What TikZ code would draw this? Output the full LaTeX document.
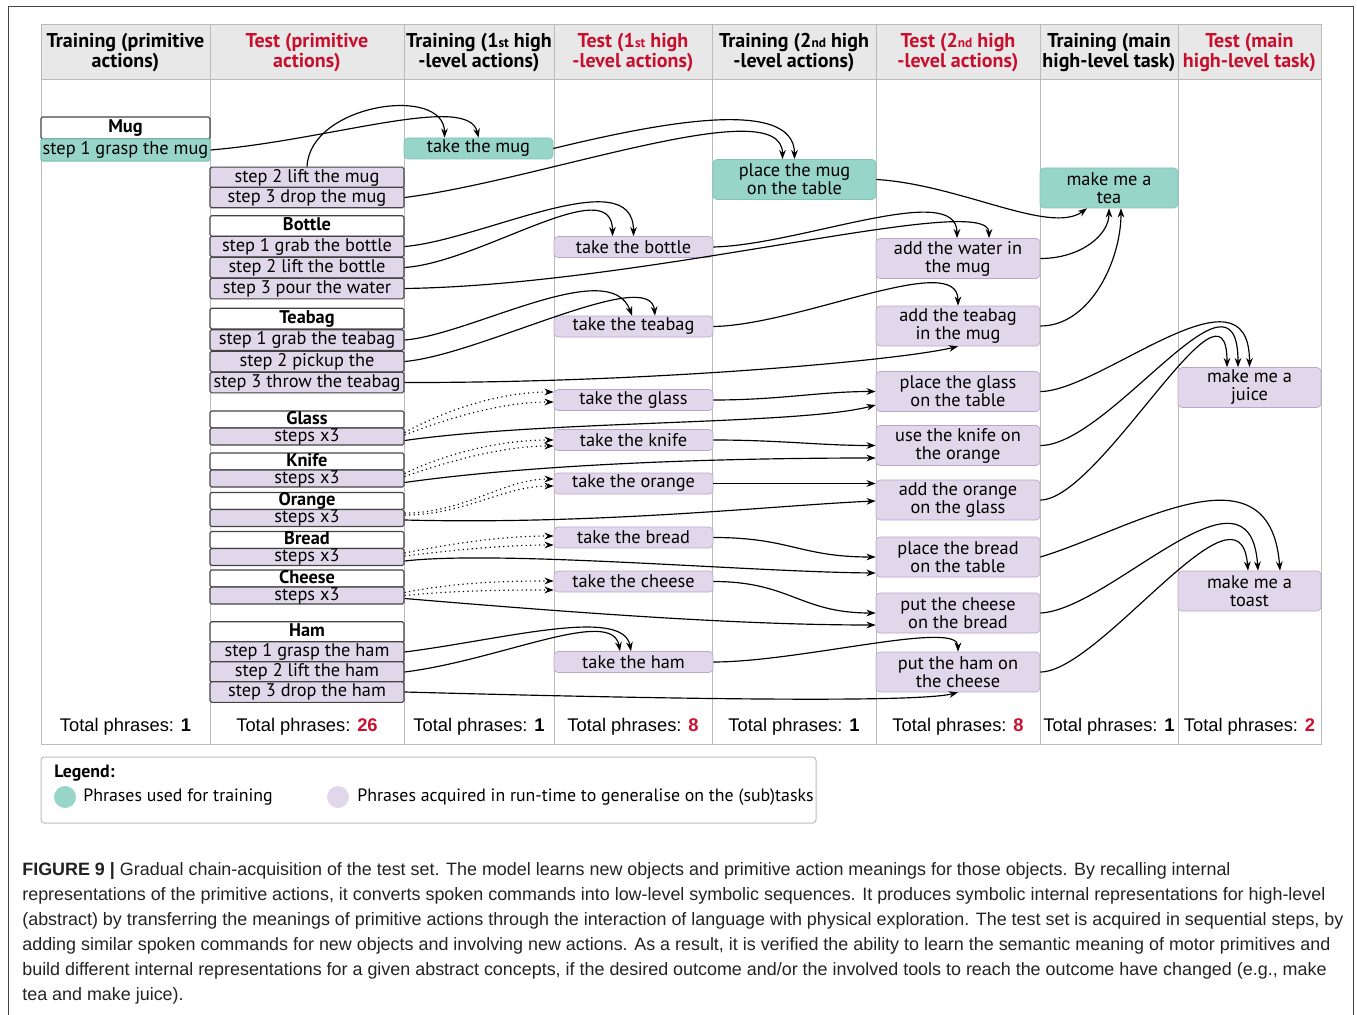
\documentclass[tikz,border=0pt]{standalone}
\usepackage{fontspec}
\setmainfont{PT Sans}
\newfontfamily\capfont{Liberation Sans}
\usetikzlibrary{arrows.meta,calc,positioning}

\definecolor{teachT}{HTML}{97D5C9}
\definecolor{teachL}{HTML}{7FC4B6}
\definecolor{lilac}{HTML}{E1D7EA}
\definecolor{lilacL}{HTML}{B9A6CB}
\definecolor{boxline}{HTML}{444444}
\definecolor{gridline}{HTML}{BBBBBB}
\definecolor{hdrgray}{HTML}{E8E8E8}
\definecolor{testred}{HTML}{C8102E}
\definecolor{capgray}{HTML}{222222}

\newcommand\boxfont{\fontsize{11}{10.8}\selectfont}

\begin{document}
\begin{tikzpicture}[x=0.6pt,y=-0.6pt,
  obj/.style={draw=boxline, fill=white, line width=0.7pt, rounded corners=1pt,
    inner sep=0pt, font=\boxfont\bfseries, text height=7.6pt, text depth=2.2pt,
    minimum width=116.4pt, minimum height=12.4pt},
  prim/.style={obj, fill=lilac, font=\boxfont},
  small/.style={minimum height=10.2pt},
  act/.style={draw=lilacL, fill=lilac, rounded corners=2.4pt, inner sep=0pt,
    align=center, font=\boxfont, minimum width=95.4pt, minimum height=12.6pt},
  act2/.style={act, minimum width=98.4pt, minimum height=24pt},
  trained/.style={fill=teachT, draw=teachL},
  hdr/.style={align=center, font=\fontsize{12}{12.5}\selectfont\bfseries},
  tot/.style={font=\capfont\fontsize{11}{12}\selectfont},
  arr/.style={-{Stealth[length=5.5pt,width=4pt]}, line width=0.7pt},
  dotarr/.style={arr, dotted}
]
\useasboundingbox (0,0) rectangle (1357,1015);

% outer frame
\draw[boxline, line width=0.6pt] (8,1015) -- (8,7) -- (1353,7) -- (1353,1015);

% table
\fill[hdrgray] (41,25) rectangle (1321,80);
\draw[gridline, line width=0.6pt] (41,25) rectangle (1321,744);
\draw[gridline, line width=0.6pt] (41,80) -- (1321,80);
\foreach \x in {210,404,554,712,876,1040,1178}
  \draw[gridline, line width=0.6pt] (\x,25) -- (\x,744);

% headers
\node[hdr] (h1) at (125.5,52.5) {Training (primitive\\actions)};
\node[hdr, testred] (h2) at (307,52.5) {Test (primitive\\actions)};
\node[hdr] (h3) at (479,52.5) {Training (1{\footnotesize st} high\\-level actions)};
\node[hdr, testred] (h4) at (633,52.5) {Test (1{\footnotesize st} high\\-level actions)};
\node[hdr] (h5) at (794,52.5) {Training (2{\footnotesize nd} high\\-level actions)};
\node[hdr, testred] (h6) at (958,52.5) {Test (2{\footnotesize nd} high\\-level actions)};
\node[hdr] (h7) at (1109,52.5) {Training (main\\high-level task)};
\node[hdr, testred] (h8) at (1249.5,52.5) {Test (main\\high-level task)};

% primitive actions (training)
\node[obj, minimum width=101.4pt, minimum height=13.2pt] (mugobj) at (125.5,128) {Mug};
\node[prim, trained, minimum width=101.4pt, minimum height=13.2pt] (grmug) at (125.5,150) {step 1 grasp the mug};

% primitive actions (test)
\node[prim] (lfmug) at (307,177.5) {step 2 lift the mug};
\node[prim] (drmug) at (307,197.5) {step 3 drop the mug};
\node[obj] (botobj) at (307,226) {Bottle};
\node[prim] (grbot) at (307,246.5) {step 1 grab the bottle};
\node[prim] (lfbot) at (307,267.5) {step 2 lift the bottle};
\node[prim] (pour) at (307,288.5) {step 3 pour the water};
\node[obj] (tbobj) at (307,318.5) {Teabag};
\node[prim] (grtb) at (307,340) {step 1 grab the teabag};
\node[prim] (pick) at (307,361.5) {step 2 pickup the};
\node[prim] (throw) at (307,382.5) {step 3 throw the teabag};
\node[obj, small] (globj) at (307,419.5) {Glass};
\node[prim, small] (glst) at (307,436.5) {steps x3};
\node[obj, small] (knobj) at (307,461.5) {Knife};
\node[prim, small] (knst) at (307,478.5) {steps x3};
\node[obj, small] (orobj) at (307,501) {Orange};
\node[prim, small] (orst) at (307,518) {steps x3};
\node[obj, small] (brobj) at (307,540) {Bread};
\node[prim, small] (brst) at (307,557) {steps x3};
\node[obj, small] (chobj) at (307,578.5) {Cheese};
\node[prim, small] (chst) at (307,595.5) {steps x3};
\node[obj] (hamobj) at (307,632) {Ham};
\node[prim] (grham) at (307,652) {step 1 grasp the ham};
\node[prim] (lfham) at (307,672) {step 2 lift the ham};
\node[prim] (drham) at (307,692) {step 3 drop the ham};

% 1st high-level actions
\node[act, trained, minimum width=89.4pt] (tkmug) at (478.5,148.5) {take the mug};
\node[act] (tkbot) at (633.5,247) {take the bottle};
\node[act] (tktb) at (633.5,326.5) {take the teabag};
\node[act] (tkgl) at (633.5,400) {take the glass};
\node[act] (tkkn) at (633.5,440) {take the knife};
\node[act] (tkor) at (633.5,483.5) {take the orange};
\node[act] (tkbr) at (633.5,537.5) {take the bread};
\node[act] (tkch) at (633.5,581.5) {take the cheese};
\node[act] (tkham) at (633.5,662) {take the ham};

% 2nd high-level actions
\node[act2, trained, minimum width=97.8pt] (pmug) at (794.5,179.5) {place the mug\\on the table};
\node[act2] (water) at (958,258.5) {add the water in\\the mug};
\node[act2] (addtb) at (958,326) {add the teabag\\in the mug};
\node[act2] (pglass) at (958,391.5) {place the glass\\on the table};
\node[act2] (useknf) at (958,445.5) {use the knife on\\the orange};
\node[act2] (addor) at (958,500) {add the orange\\on the glass};
\node[act2] (pbread) at (958,557) {place the bread\\on the table};
\node[act2] (pchee) at (958,613) {put the cheese\\on the bread};
\node[act2] (pham) at (958,672) {put the ham on\\the cheese};

% main tasks
\node[act2, trained, minimum width=82.8pt] (tea) at (1109,188) {make me a\\tea};
\node[act2, minimum width=85.8pt] (juice) at (1249.5,387.5) {make me a\\juice};
\node[act2, minimum width=85.8pt] (toast) at (1249.5,591) {make me a\\toast};

% mug, bottle, teabag chains
\draw[arr] (grmug.east) .. controls +(120,-10) and +(-10,-45) .. (tkmug.north);
\draw[arr] (lfmug.north) .. controls +(3,-63) and +(0,-53) .. ($(tkmug.north)+(-34,0)$);
\draw[arr] (tkmug.east) .. controls +(97,-23.5) and +(0,-64) .. (pmug.north);
\draw[arr] (drmug.east) .. controls +(136,-17) and +(0,-69) .. ($(pmug.north)+(-12,0)$);
\draw[arr] (pmug.east) .. controls +(84,5) and +(-37,27) .. ($(tea.south)+(-22,0)$);
\draw[arr] (water.east) .. controls +(40,0) and +(0,27) .. (tea.south);
\draw[arr] (addtb.east) .. controls +(50,0) and +(0,52) .. ($(tea.south)+(12,0)$);
\draw[arr] (grbot.east) .. controls +(76,-6) and +(0,-76) .. (tkbot.north);
\draw[arr] (lfbot.east) .. controls +(76,-5) and +(0,-66) .. ($(tkbot.north)+(-21,0)$);
\draw[arr] (tkbot.east) .. controls +(87,-2) and +(0,-58) .. ($(water.north)+(-1,0)$);
\draw[arr] (pour.east) .. controls +(246,-3.5) and +(0,-48) .. ($(water.north)+(31,0)$);
\draw[arr] (grtb.east) .. controls +(66,-5) and +(-22,-61) .. ($(tktb.north)+(-1.5,0)$);
\draw[arr] (pick.east) .. controls +(76,-6.5) and +(-5,-51) .. ($(tktb.north)+(21.5,0)$);
\draw[arr] (tktb.east) .. controls +(87,-1.5) and +(0,-56) .. (addtb.north);
\draw[arr] (throw.east) .. controls +(246,0.5) and +(-58,14) .. (addtb.south);

% glass, knife, orange
\draw[dotarr] ($(glst.east)+(0,-4)$) .. controls +(46,-25) and +(-50,0) .. ($(tkgl.west)+(0,-8)$);
\draw[dotarr] ($(glst.east)+(0,-1.5)$) .. controls +(46,-18) and +(-50,0) .. ($(tkgl.west)+(0,2)$);
\draw[arr] ($(glst.east)+(0,4)$) .. controls +(146,-20.5) and +(-76,20) .. ($(pglass.west)+(0,13.5)$);
\draw[arr] (tkgl.east) .. controls +(67,0) and +(-56,0) .. (pglass.west);
\draw[dotarr] ($(knst.east)+(0,-5)$) .. controls +(46,-22) and +(-50,0) .. (tkkn.west);
\draw[dotarr] ($(knst.east)+(0,-2)$) .. controls +(46,-16) and +(-50,0) .. ($(tkkn.west)+(0,6)$);
\draw[arr] ($(knst.east)+(0,4)$) .. controls +(146,-20.5) and +(-126,0) .. ($(useknf.west)+(0,12.5)$);
\draw[arr] (tkkn.east) .. controls +(67,0) and +(-56,0) .. (useknf.west);
\draw[dotarr] ($(orst.east)+(0,-5)$) .. controls +(60,0) and +(-50,0) .. ($(tkor.west)+(0,-4.5)$);
\draw[dotarr] ($(orst.east)+(0,-3)$) .. controls +(60,0) and +(-50,0) .. ($(tkor.west)+(0,2.5)$);
\draw[arr] ($(orst.east)+(0,2)$) .. controls +(196,5) and +(-96,4) .. ($(addor.west)+(0,1)$);
\draw[arr] (tkor.east) -- ($(addor.west)+(0,-16.5)$);

% bread, cheese, ham
\draw[dotarr] ($(brst.east)+(0,-4)$) .. controls +(50,-10) and +(-50,0) .. ($(tkbr.west)+(0,-1.5)$);
\draw[dotarr] ($(brst.east)+(0,-1)$) .. controls +(50,-6) and +(-50,0) .. ($(tkbr.west)+(0,7.5)$);
\draw[arr] ($(brst.east)+(0,4)$) .. controls +(96,-11) and +(-126,-1) .. ($(pbread.west)+(0,16)$);
\draw[arr] (tkbr.east) .. controls +(77,0) and +(-76,0) .. (pbread.west);
\draw[dotarr] ($(chst.east)+(0,-3)$) .. controls +(50,-10) and +(-50,0) .. ($(tkch.west)+(0,-0.5)$);
\draw[dotarr] (chst.east) .. controls +(50,-5) and +(-50,0) .. ($(tkch.west)+(0,8.5)$);
\draw[arr] ($(chst.east)+(0,3)$) .. controls +(196,16.5) and +(-126,0) .. ($(pchee.west)+(0,12)$);
\draw[arr] (tkch.east) .. controls +(77,0) and +(-76,0) .. (pchee.west);
\draw[arr] (grham.east) .. controls +(96,-12) and +(-8,-45) .. ($(tkham.north)+(-2.5,0)$);
\draw[arr] (lfham.east) .. controls +(96,-12) and +(-8,-45) .. ($(tkham.north)+(-13.5,0)$);
\draw[arr] (tkham.east) .. controls +(87,0) and +(0,-32) .. (pham.north);
\draw[arr] (drham.east) .. controls +(296,8) and +(-38,10) .. (pham.south);

% juice and toast
\draw[arr] (pglass.east) .. controls +(60,0) and +(0,-110) .. (juice.north);
\draw[arr] (useknf.east) .. controls +(70,0) and +(0,-118) .. ($(juice.north)+(-11.5,0)$);
\draw[arr] (addor.east) .. controls +(60,0) and +(0,-108) .. ($(juice.north)+(-22.5,0)$);
\draw[arr] (pbread.east) .. controls +(90,-27) and +(-10,-131) .. ($(toast.north)+(30.5,0)$);
\draw[arr] (pchee.east) .. controls +(70,-3) and +(-8,-121) .. ($(toast.north)+(8.5,0)$);
\draw[arr] (pham.east) .. controls +(60,0) and +(-8,-101) .. ($(toast.north)+(-1.5,0)$);

% totals
\node[tot] (t1) at (125.5,727) {Total phrases: \textbf{1}};
\node[tot] (t2) at (307,727) {Total phrases: \textbf{\color{testred}26}};
\node[tot] (t3) at (479,727) {Total phrases: \textbf{1}};
\node[tot] (t4) at (633,727) {Total phrases: \textbf{\color{testred}8}};
\node[tot] (t5) at (794,727) {Total phrases: \textbf{1}};
\node[tot] (t6) at (958,727) {Total phrases: \textbf{\color{testred}8}};
\node[tot] (t7) at (1109,727) {Total phrases: \textbf{1}};
\node[tot] (t8) at (1249.5,727) {Total phrases: \textbf{\color{testred}2}};

% legend
\draw[gridline, line width=0.6pt, rounded corners=2pt] (41,757) rectangle (816,823);
\node[font=\fontsize{10.7}{12}\selectfont\bfseries, anchor=west, inner sep=0pt] (leg) at (54,773) {Legend:};
\fill[teachT] (65,797) circle (6.6pt);
\fill[lilac] (338,797) circle (6.6pt);
\node[font=\fontsize{10.7}{12}\selectfont, anchor=west, inner sep=0pt] (legT) at (83,797) {Phrases used for training};
\node[font=\fontsize{10.7}{12}\selectfont, anchor=west, inner sep=0pt] (legL) at (357,797) {Phrases acquired in run-time to generalise on the (sub)tasks};

% caption
\node[anchor=north west, inner sep=0pt, align=left, text=capgray,
  font=\capfont\fontsize{10.75}{15}\selectfont] (cap) at (22,862)
  {\textbf{FIGURE 9 |} Gradual chain-acquisition of the test set. The model learns new objects and primitive action meanings for those objects. By recalling internal\\
   representations of the primitive actions, it converts spoken commands into low-level symbolic sequences. It produces symbolic internal representations for high-level\\
   (abstract) by transferring the meanings of primitive actions through the interaction of language with physical exploration. The test set is acquired in sequential steps, by\\
   adding similar spoken commands for new objects and involving new actions. As a result, it is verified the ability to learn the semantic meaning of motor primitives and\\
   build different internal representations for a given abstract concepts, if the desired outcome and/or the involved tools to reach the outcome have changed (e.g., make\\
   tea and make juice).};
\end{tikzpicture}
\end{document}
